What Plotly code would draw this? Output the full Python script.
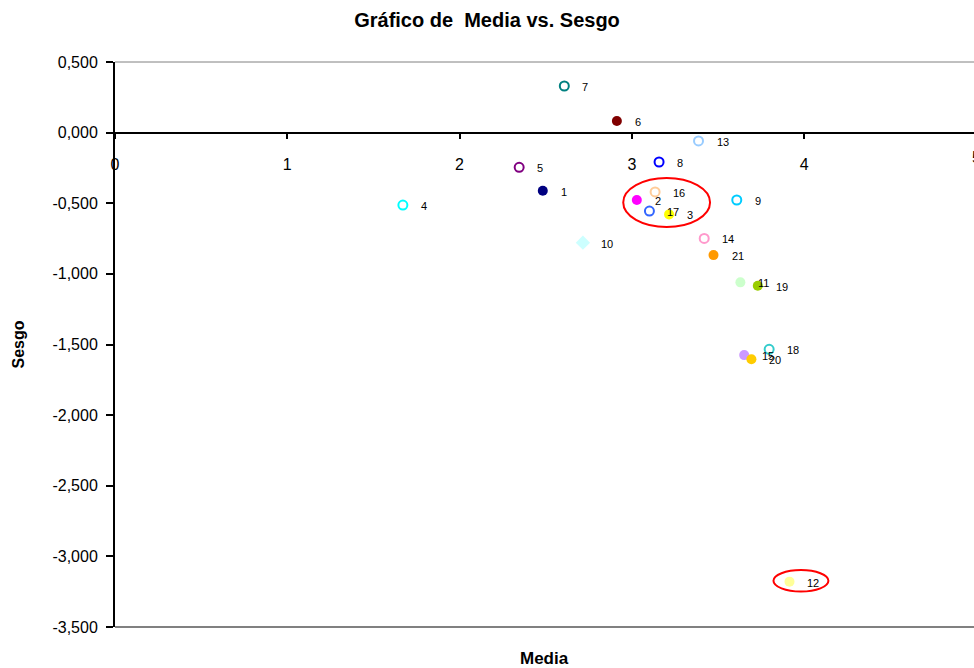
import plotly.graph_objects as go

# Media / Sesgo per item
item_ids = ["1", "2", "3", "4", "5", "6", "7", "8", "9", "10", "11",
            "12", "13", "14", "15", "16", "17", "18", "19", "20", "21"]
media = [2.483, 3.029, 3.216, 1.671, 2.346, 2.913, 2.608, 3.158, 3.609, 2.716, 3.630,
         3.915, 3.387, 3.420, 3.652, 3.135, 3.102, 3.797, 3.731, 3.694, 3.474]
sesgo = [-0.411, -0.477, -0.579, -0.513, -0.246, 0.082, 0.330, -0.208, -0.477, -0.779, -1.060,
         -3.179, -0.059, -0.749, -1.575, -0.420, -0.555, -1.534, -1.084, -1.605, -0.867]

# marker styling per item
marker_colors = ["#000080", "#FF00FF", "#FFFF00", "#00FFFF", "#800080", "#800000", "#008080",
                 "#0000FF", "#00CCFF", "#CCFFFF", "#CCFFCC", "#FFFF99", "#99CCFF", "#FF99CC",
                 "#CC99FF", "#FFCC99", "#3366FF", "#33CCCC", "#99CC00", "#FFCC00", "#FF9900"]
marker_symbols = ["circle", "circle", "circle", "circle-open", "circle-open", "circle", "circle-open",
                  "circle-open", "circle-open", "diamond", "circle", "circle", "circle-open",
                  "circle-open", "circle", "circle-open", "circle-open", "circle-open", "circle",
                  "circle", "circle"]

# axis ticks
x_ticks = [0, 1, 2, 3, 4]
y_ticks = [0.5, 0.0, -0.5, -1.0, -1.5, -2.0, -2.5, -3.0, -3.5]
y_ticktext = [f"{v:.3f}".replace(".", ",") for v in y_ticks]

# highlighted groups (x0, x1, y0, y1)
highlights = [(2.950, 3.454, -0.321, -0.668), (3.822, 4.141, -3.097, -3.249)]

FONT = "Liberation Sans, Arial, sans-serif"

sizes = [9 if s.endswith("open") else (11 if s == "diamond" else 10) for s in marker_symbols]
line_w = [2 if s.endswith("open") else 0 for s in marker_symbols]

fig = go.Figure()
fig.add_trace(go.Scatter(
    x=media, y=sesgo, mode="markers",
    marker=dict(color=marker_colors, symbol=marker_symbols, size=sizes, opacity=1,
                line=dict(color=marker_colors, width=line_w)),
    hoverinfo="text", text=item_ids, showlegend=False,
))

annotations = []
for name, mx, sy in zip(item_ids, media, sesgo):
    annotations.append(dict(x=mx, y=sy, xref="x", yref="y", text=name, showarrow=False,
                            xanchor="left", yanchor="middle", xshift=16, yshift=-1,
                            font=dict(family=FONT, size=11, color="#000000")))

# axis titles
annotations.append(dict(x=0.5, y=0, xref="paper", yref="paper", text="<b>Media</b>",
                        showarrow=False, xanchor="center", yanchor="middle", yshift=-31,
                        font=dict(family=FONT, size=17, color="#000000")))
annotations.append(dict(x=0, y=0.5, xref="paper", yref="paper", text="<b>Sesgo</b>",
                        showarrow=False, xanchor="center", yanchor="middle", xshift=-97,
                        textangle=-90, font=dict(family=FONT, size=16, color="#000000")))
# last x tick label at the right edge
annotations.append(dict(x=1, y=0, xref="paper", yref="y", text="5", showarrow=False,
                        xanchor="center", yanchor="middle", xshift=2, yshift=-25,
                        font=dict(family=FONT, size=16, color="#000000")))

shapes = []
for x0, x1, y0, y1 in highlights:
    shapes.append(dict(type="circle", xref="x", yref="y", x0=x0, x1=x1, y0=y0, y1=y1,
                       line=dict(color="#FF0000", width=2)))
# plot-area border (top and bottom)
shapes.append(dict(type="line", xref="paper", yref="paper", x0=0, x1=1, y0=1, y1=1,
                   line=dict(color="#808080", width=1), layer="below"))
shapes.append(dict(type="line", xref="paper", yref="paper", x0=0, x1=1, y0=0, y1=0,
                   line=dict(color="#808080", width=2), layer="below"))

fig.update_layout(
    width=974, height=668,
    margin=dict(l=115, r=0, t=62, b=41),
    paper_bgcolor="white", plot_bgcolor="white",
    font=dict(family=FONT, color="#000000"),
    title=dict(text="<b>Gráfico de \u00a0Media vs. Sesgo</b>", x=0.5, xanchor="center",
               y=1 - 20 / 668, yanchor="middle", font=dict(family=FONT, size=20, color="#000000")),
    xaxis=dict(range=[0, 4.986], tickvals=x_ticks, ticktext=[str(v) for v in x_ticks],
               showgrid=False, zeroline=False, showline=True, linecolor="#000000", linewidth=2,
               ticks="outside", ticklen=5, tickwidth=2, tickcolor="#000000",
               anchor="free", position=0.875, ticklabelstandoff=12,
               tickfont=dict(family=FONT, size=16, color="#000000")),
    yaxis=dict(range=[-3.5, 0.5], tickvals=y_ticks, ticktext=y_ticktext,
               showgrid=False, zeroline=False, showline=True, linecolor="#000000", linewidth=2,
               ticks="outside", ticklen=7, tickwidth=2, tickcolor="#000000",
               ticklabelstandoff=5,
               tickfont=dict(family=FONT, size=16, color="#000000")),
    annotations=annotations,
    shapes=shapes,
)

fig.write_html("out.html")
